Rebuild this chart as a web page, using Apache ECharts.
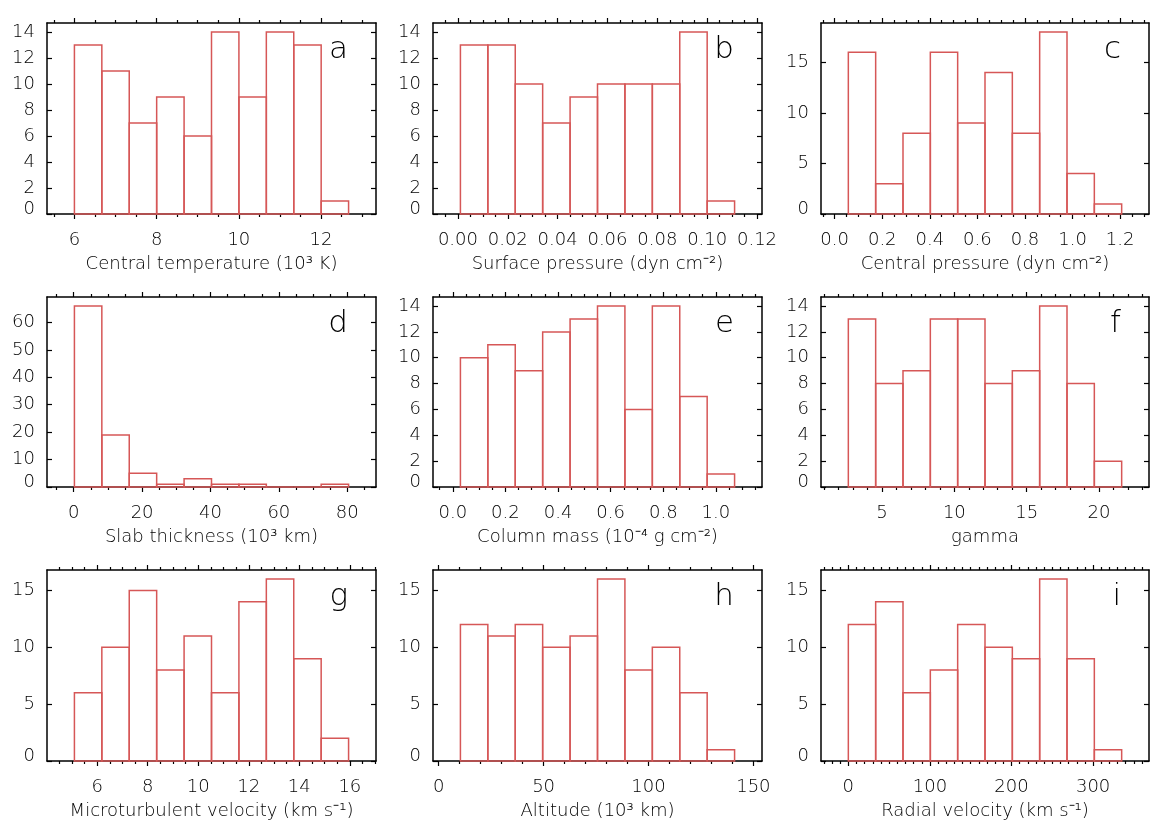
<!DOCTYPE html>
<html>
<head>
<meta charset="utf-8">
<script src="https://cdn.jsdelivr.net/npm/echarts@6/dist/echarts.min.js"></script>
<style>
  html, body { margin: 0; padding: 0; background: #fff; }
  #main { width: 1171px; height: 827px; }
</style>
</head>
<body>
<div id="main"></div>
<script>
// panel letters and axis titles
var letters = ['a', 'b', 'c', 'd', 'e', 'f', 'g', 'h', 'i'];
var titles = [
  'Central temperature (10\u00b3 K)',
  'Surface pressure (dyn cm\u207b\u00b2)',
  'Central pressure (dyn cm\u207b\u00b2)',
  'Slab thickness (10\u00b3 km)',
  'Column mass (10\u207b\u2074 g cm\u207b\u00b2)',
  'gamma',
  'Microturbulent velocity (km s\u207b\u00b9)',
  'Altitude (10\u00b3 km)',
  'Radial velocity (km s\u207b\u00b9)'
];

// histogram bins: first edge and bin width of each panel
var binStart = [6.0, 0.001, 0.0574, 0.2, 0.029, 2.67, 5.10, 10.35, 0.0];
var binSize  = [0.667, 0.011, 0.1149, 8.02, 0.1042, 1.89, 1.085, 13.07, 33.5];

// counts per bin
var countsA = [13, 11, 7, 9, 6, 14, 9, 14, 13, 1];
var countsB = [13, 13, 10, 7, 9, 10, 10, 10, 14, 1];
var countsC = [16, 3, 8, 16, 9, 14, 8, 18, 4, 1];
var countsD = [66, 19, 5, 1, 3, 1, 1, 0, 0, 1];
var countsE = [10, 11, 9, 12, 13, 14, 6, 14, 7, 1];
var countsF = [13, 8, 9, 13, 13, 8, 9, 14, 8, 2];
var countsG = [6, 10, 15, 8, 11, 6, 14, 16, 9, 2];
var countsH = [12, 11, 12, 10, 11, 16, 8, 10, 6, 1];
var countsI = [12, 14, 6, 8, 12, 10, 9, 16, 9, 1];
var counts = [countsA, countsB, countsC, countsD, countsE, countsF, countsG, countsH, countsI];

// x tick labels
var xTicks = [
  [6, 8, 10, 12],
  [0, 0.02, 0.04, 0.06, 0.08, 0.10, 0.12],
  [0, 0.2, 0.4, 0.6, 0.8, 1.0, 1.2],
  [0, 20, 40, 60, 80],
  [0, 0.2, 0.4, 0.6, 0.8, 1.0],
  [5, 10, 15, 20],
  [6, 8, 10, 12, 14, 16],
  [0, 50, 100, 150],
  [0, 100, 200, 300]
];
var xDecimals = [0, 2, 1, 0, 1, 0, 0, 0, 0];
var xMinorStep = [0.5, 0.005, 0.05, 5, 0.05, 1, 0.5, 10, 10];
// y tick step
var yStep = [2, 2, 5, 10, 2, 2, 5, 5, 5];

var RED = '#d65757';
var INK = '#000';
var FONT = 'DejaVu Sans';
var FS = 18;
var FW = 200;

var gridLeft = [47, 433, 821];
var gridTop = [23, 297, 570];
var gridW = [329, 329, 328];
var gridH = [191, 190, 191];

var myChart = echarts.init(document.getElementById('main'));

var grids = [], xAxes = [], yAxes = [], series = [], graphics = [];

function steps(lo, hi, step) {
  var out = [];
  var k0 = Math.ceil(lo / step - 1e-9), k1 = Math.floor(hi / step + 1e-9);
  for (var k = k0; k <= k1; k++) out.push(+(k * step).toFixed(6));
  return out;
}

for (var p = 0; p < 9; p++) {
  var col = p % 3, row = Math.floor(p / 3);
  var lo = binStart[p], w = binSize[p];
  var xMin = lo - w, xMax = lo + 11 * w;
  var cmax = Math.max.apply(null, counts[p]);
  var yMax = cmax * 1.05;

  grids.push({ left: gridLeft[col], top: gridTop[row], width: gridW[col], height: gridH[row] });

  var major = xTicks[p];
  var minor = steps(xMin, xMax, xMinorStep[p]).filter(function (v) {
    return major.every(function (m) { return Math.abs(m - v) > 1e-7; });
  });
  var dec = xDecimals[p];
  var yTicks = steps(0, yMax, yStep[p]);

  var baseX = { type: 'value', gridIndex: p, min: xMin, max: xMax, splitLine: { show: false } };
  // bottom major
  xAxes.push(Object.assign({}, baseX, {
    position: 'bottom',
    axisLine: { show: true, onZero: false, lineStyle: { color: '#000', width: 1.5 } },
    axisTick: { show: true, inside: false, length: 5, customValues: major, lineStyle: { color: '#000', width: 1.2 } },
    axisLabel: { show: true, customValues: major, margin: 17, color: INK, fontFamily: FONT, fontSize: FS, fontWeight: FW,
      formatter: (function (d) { return function (v) { return v.toFixed(d); }; })(dec) },
    name: titles[p], nameLocation: 'middle', nameGap: 41,
    nameTextStyle: { color: INK, fontFamily: FONT, fontSize: FS, fontWeight: FW }
  }));
  // bottom minor
  xAxes.push(Object.assign({}, baseX, {
    position: 'bottom',
    axisLine: { show: false, onZero: false },
    axisTick: { show: true, inside: false, length: 3, customValues: minor, lineStyle: { color: '#000', width: 1.2 } },
    axisLabel: { show: false }
  }));
  // top major
  xAxes.push(Object.assign({}, baseX, {
    position: 'top',
    axisLine: { show: true, onZero: false, lineStyle: { color: '#000', width: 1.5 } },
    axisTick: { show: true, inside: false, length: 5, customValues: major, lineStyle: { color: '#000', width: 1.2 } },
    axisLabel: { show: false }
  }));
  // top minor
  xAxes.push(Object.assign({}, baseX, {
    position: 'top',
    axisLine: { show: false, onZero: false },
    axisTick: { show: true, inside: false, length: 3, customValues: minor, lineStyle: { color: '#000', width: 1.2 } },
    axisLabel: { show: false }
  }));

  var baseY = { type: 'value', gridIndex: p, min: 0, max: yMax, splitLine: { show: false } };
  yAxes.push(Object.assign({}, baseY, {
    position: 'left',
    axisLine: { show: true, onZero: false, lineStyle: { color: '#000', width: 1.5 } },
    axisTick: { show: true, inside: true, length: 5, customValues: yTicks, lineStyle: { color: '#000', width: 1.2 } },
    axisLabel: { show: true, customValues: yTicks, margin: 12, color: INK, fontFamily: FONT, fontSize: FS, fontWeight: FW,
      formatter: function (v) { return v === 0 ? '{z|0}' : String(v); },
      rich: { z: { padding: [0, 0, 9, 0], color: INK, fontFamily: FONT, fontSize: FS, fontWeight: FW } } }
  }));
  yAxes.push(Object.assign({}, baseY, {
    position: 'right',
    axisLine: { show: true, onZero: false, lineStyle: { color: '#000', width: 1.5 } },
    axisTick: { show: true, inside: true, length: 5, customValues: yTicks, lineStyle: { color: '#000', width: 1.2 } },
    axisLabel: { show: false }
  }));

  var data = counts[p].map(function (c, i) { return [lo + i * w, lo + (i + 1) * w, c]; });
  series.push({
    type: 'custom',
    xAxisIndex: p * 4,
    yAxisIndex: p * 2,
    z: 5,
    silent: true,
    encode: { x: [0, 1], y: 2 },
    data: data,
    renderItem: function (params, api) {
      var a = api.coord([api.value(0), 0]);
      var b = api.coord([api.value(1), api.value(2)]);
      return {
        type: 'rect',
        shape: { x: a[0], y: b[1], width: b[0] - a[0], height: a[1] - b[1] },
        style: { fill: 'none', stroke: RED, lineWidth: 1.5 }
      };
    }
  });

  graphics.push({
    type: 'text',
    x: gridLeft[col] + gridW[col] - 28,
    y: gridTop[row] + 42,
    style: { text: letters[p], fill: INK, font: FW + ' 31px "' + FONT + '"', textAlign: 'right', textVerticalAlign: 'bottom' },
    z: 10
  });
}

myChart.setOption({
  backgroundColor: '#fff',
  animation: false,
  grid: grids,
  xAxis: xAxes,
  yAxis: yAxes,
  series: series,
  graphic: graphics
});
</script>
</body>
</html>
